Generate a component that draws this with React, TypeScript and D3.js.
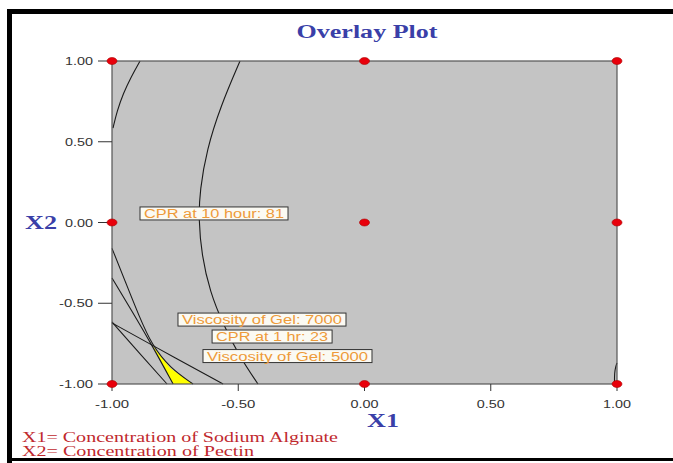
import React from "react";
import * as d3 from "d3";

const xTicks = [-1, -0.5, 0, 0.5, 1];
const yTicks = [-1, -0.5, 0, 0.5, 1];
const tickLabels = ["-1.00", "-0.50", "0.00", "0.50", "1.00"];
const designX = [-1, 0, 1, -1, 0, 1, -1, 0, 1];
const designY = [1, 1, 1, 0, 0, 0, -1, -1, -1];

type P = [number, number];
const cpr10hUpper: P[] = [[-0.889, 1], [-0.925, 0.9], [-0.955, 0.8], [-0.98, 0.69], [-0.996, 0.585]];
const cpr10h81: P[] = [[-0.493, 1], [-0.57, 0.72], [-0.625, 0.45], [-0.652, 0.2], [-0.657, 0.02], [-0.645, -0.2], [-0.612, -0.43], [-0.56, -0.63], [-0.495, -0.83], [-0.422, -1]];
const viscosity7000: P[] = [[-1, -0.16], [-0.945, -0.375], [-0.893, -0.579], [-0.842, -0.759], [-0.77, -0.901], [-0.679, -1]];
const viscosity5000: P[] = [[-1, -0.344], [-0.921, -0.548], [-0.842, -0.759], [-0.758, -1]];
const cpr1hLower: P[] = [[-1, -0.616], [-0.889, -0.814], [-0.782, -1]];
const cpr1h23: P[] = [[-1, -0.622], [-0.842, -0.759], [-0.56, -1]];
const cornerContour: P[] = [[0.99, -1], [0.99, -0.93], [0.995, -0.89], [1, -0.87]];
const feasibleRegion: P[] = [[-0.842, -0.759], [-0.8, -0.88], [-0.758, -1], [-0.679, -1], [-0.77, -0.901]];

const labelTexts = ["CPR at 10 hour: 81", "Viscosity of Gel: 7000", "CPR at 1 hr: 23", "Viscosity of Gel: 5000"];
const labelX1 = [-0.596, -0.406, -0.366, -0.305];
const labelX2 = [0.056, -0.601, -0.706, -0.827];
const labelWidths = [148, 168, 120, 169];

export default function App() {
  const W = 673, H = 463;
  const x = d3.scaleLinear().domain([-1, 1]).range([112, 617]);
  const y = d3.scaleLinear().domain([-1, 1]).range([384, 61]);
  const line = d3.line<P>().x(d => x(d[0])).y(d => y(d[1])).curve(d3.curveBasis);
  const poly = d3.line<P>().x(d => x(d[0])).y(d => y(d[1])).curve(d3.curveLinearClosed);
  const contours = [cpr10hUpper, cpr10h81, viscosity7000, viscosity5000, cpr1hLower, cpr1h23, cornerContour];
  const arial = "Arial, 'Liberation Sans', sans-serif";
  const times = "'Times New Roman', 'Liberation Serif', serif";
  return (
    <div style={{ position: "fixed", left: 0, top: 0 }}>
      <svg width={W} height={H} style={{ display: "block", background: "#fff" }}>
        <rect x={7} y={9} width={666} height={5} fill="#000" />
        <rect x={7} y={9} width={5} height={454} fill="#000" />
        <rect x={7} y={458} width={666} height={3} fill="#000" />

        <text x={367} y={38} textAnchor="middle" fontFamily={times} fontWeight="bold" fontSize={18} fill="#3a3fa8" textLength={141} lengthAdjust="spacingAndGlyphs">Overlay Plot</text>

        <rect x={x(-1)} y={y(1)} width={x(1) - x(-1)} height={y(-1) - y(1)} fill="#c4c4c4" />
        <path d={poly(feasibleRegion) || ""} fill="#ffff00" />
        {contours.map((c, i) => (
          <path key={i} d={line(c) || ""} fill="none" stroke="#1a1a1a" strokeWidth={1.1} />
        ))}
        <rect x={x(-1)} y={y(1)} width={x(1) - x(-1)} height={y(-1) - y(1)} fill="none" stroke="#555" strokeWidth={1.2} />

        {xTicks.map((t, i) => (
          <g key={"x" + i}>
            <line x1={x(t)} x2={x(t)} y1={y(-1)} y2={y(-1) + 7} stroke="#333" />
            <text x={x(t)} y={408} textAnchor="middle" fontFamily={arial} fontSize={11} fill="#333" textLength={t < 0 ? 34 : 28} lengthAdjust="spacingAndGlyphs">{tickLabels[i]}</text>
          </g>
        ))}
        {yTicks.map((t, i) => (
          <g key={"y" + i}>
            <line x1={98} x2={112} y1={y(t)} y2={y(t)} stroke="#333" />
            <text x={93} y={y(t) + 4} textAnchor="end" fontFamily={arial} fontSize={11} fill="#333" textLength={t < 0 ? 34 : 28} lengthAdjust="spacingAndGlyphs">{tickLabels[i]}</text>
          </g>
        ))}

        {designX.map((dx, i) => (
          <ellipse key={"d" + i} cx={x(dx)} cy={y(designY[i])} rx={5} ry={3.5} fill="#e8000b" stroke="#a00" strokeWidth={0.6} />
        ))}

        {labelTexts.map((t, i) => (
          <g key={"l" + i}>
            <rect x={x(labelX1[i]) - labelWidths[i] / 2} y={y(labelX2[i]) - 6.5} width={labelWidths[i]} height={13} fill="#fbfaf3" stroke="#333" strokeWidth={1} />
            <text x={x(labelX1[i])} y={y(labelX2[i]) + 4.5} textAnchor="middle" fontFamily={arial} fontSize={12} fill="#ee9b3a" textLength={labelWidths[i] - 8} lengthAdjust="spacingAndGlyphs">{t}</text>
          </g>
        ))}

        <text x={41} y={229} textAnchor="middle" fontFamily={times} fontWeight="bold" fontSize={19} fill="#3a3fa8" textLength={32} lengthAdjust="spacingAndGlyphs">X2</text>
        <text x={383} y={427} textAnchor="middle" fontFamily={times} fontWeight="bold" fontSize={19} fill="#3a3fa8" textLength={32} lengthAdjust="spacingAndGlyphs">X1</text>

        <text x={22} y={442} fontFamily={times} fontSize={14} fill="#c0282d" textLength={316} lengthAdjust="spacingAndGlyphs">X1= Concentration of Sodium Alginate</text>
        <text x={22} y={456} fontFamily={times} fontSize={14} fill="#c0282d" textLength={232} lengthAdjust="spacingAndGlyphs">X2= Concentration of Pectin</text>
      </svg>
    </div>
  );
}
